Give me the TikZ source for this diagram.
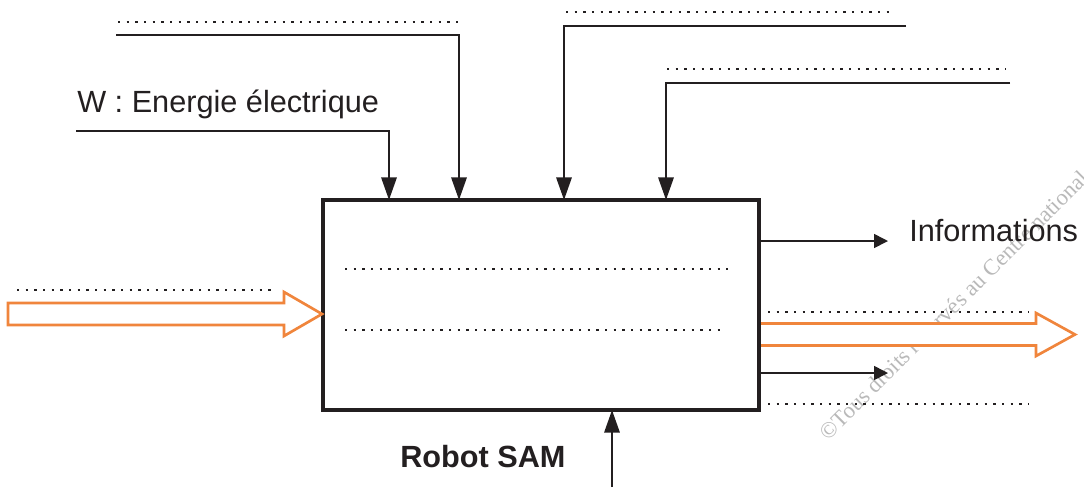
\documentclass[tikz,border=0pt]{standalone}
\usepackage{fontspec}
\setmainfont{Liberation Sans}
\newfontfamily\wmfont{Liberation Serif}
\usetikzlibrary{arrows.meta}
\definecolor{ink}{RGB}{35,31,32}
\definecolor{orng}{RGB}{240,133,60}
\definecolor{wm}{RGB}{185,185,185}
\tikzset{
  conn/.style={draw=ink, line width=1.7pt, -{Triangle[length=17pt,width=11.5pt]}},
  thinconn/.style={draw=ink, line width=1.2pt, -{Triangle[length=10.5pt,width=10.5pt]}},
  dots/.style={draw=ink, line width=1.8pt, dash pattern=on 1.8pt off 4.7pt},
  hollow/.style={draw=orng, line width=2pt, fill=white},
  lbl/.style={font=\fontsize{23pt}{26pt}\selectfont, text=ink, inner sep=0pt},
  mainbox/.style={draw=ink, line width=2.3pt, minimum width=327pt, minimum height=157.5pt, inner sep=0pt}
}
\begin{document}
\begin{tikzpicture}[x=0.75pt,y=-0.75pt]
\useasboundingbox (0,0) rectangle (1084,487);
\begin{scope}
\clip (0,0) rectangle (1084,487);
\node[font=\wmfont\fontsize{17pt}{19pt}\selectfont, text=wm, rotate=45, anchor=base west, inner sep=0pt] (wmark) at (828,442) {\textcopyright Tous droits réservés au Centre national};
\end{scope}
% main box
\node[mainbox] (box) at (541,305) {};
% coordinates on box
\coordinate (t1) at (389,200);
\coordinate (t2) at (459,200);
\coordinate (t3) at (564,200);
\coordinate (t4) at (666,200);
\coordinate (s1) at (76,131);
\coordinate (s2) at (116,35);
\coordinate (s3) at (906,26);
\coordinate (s4) at (1010,83);
\draw[conn] (s1) -| (t1);
\draw[conn] (s2) -| (t2);
\draw[conn] (s3) -| (t3);
\draw[conn] (s4) -| (t4);
% dotted labels above top lines
\coordinate (d2a) at (118,22); \coordinate (d2b) at (458,22);
\coordinate (d3a) at (566,12); \coordinate (d3b) at (890,12);
\coordinate (d4a) at (667,69); \coordinate (d4b) at (1006,69);
\draw[dots] (d2a) -- (d2b);
\draw[dots] (d3a) -- (d3b);
\draw[dots] (d4a) -- (d4b);
\node[lbl, anchor=base west] (wlabel) at (77,112) {W : Energie électrique};
% left orange arrow
\coordinate (ltip) at (322,314);
\draw[hollow] (8,303) -- (284,303) -- (284,292) -- (ltip) -- (284,336) -- (284,325) -- (8,325) -- cycle;
\coordinate (dla) at (17,290); \coordinate (dlb) at (276,290);
\draw[dots] (dla) -- (dlb);
% dotted inside box
\coordinate (b1a) at (345,269); \coordinate (b1b) at (728,269);
\coordinate (b2a) at (345,330); \coordinate (b2b) at (723,330);
\draw[dots] (b1a) -- (b1b);
\draw[dots] (b2a) -- (b2b);
% right outputs
\coordinate (r1) at (761,241); \coordinate (r1e) at (888,241);
\draw[thinconn] (r1) -- (r1e);
\node[lbl, anchor=base west] (info) at (909,241) {Informations};
\coordinate (r2) at (761,373); \coordinate (r2e) at (888,373);
\draw[thinconn] (r2) -- (r2e);
\draw[dots] (768,312) -- (1029,312);
\draw[dots] (768,404) -- (1029,404);
\coordinate (rtip) at (1075,334.5);
\draw[hollow] (761,323.5) -- (1036,323.5) -- (1036,313) -- (rtip) -- (1036,356) -- (1036,345.5) -- (761,345.5);
% bottom arrow
\coordinate (bot) at (612,487);
\coordinate (bt) at (612,410);
\draw[conn] (bot) -- (bt);
\node[lbl, font=\fontsize{23pt}{26pt}\selectfont\bfseries, anchor=base west] (robot) at (400,467) {Robot SAM};
\end{tikzpicture}
\end{document}
